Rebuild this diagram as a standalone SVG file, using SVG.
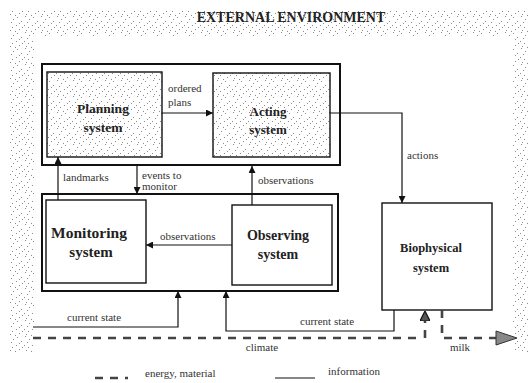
<svg xmlns="http://www.w3.org/2000/svg" width="532" height="383" viewBox="0 0 532 383" font-family="'Liberation Serif', 'DejaVu Serif', serif">
<style>
.lbl{font-family:'Liberation Serif','DejaVu Serif',serif;font-size:11px;fill:#333}
.ttl{font-family:'Liberation Serif','DejaVu Serif',serif;font-weight:bold;fill:#222;text-anchor:middle}
.box{stroke:#111;stroke-width:1.4}
.info{fill:none;stroke:#111;stroke-width:1.2}
.energy{fill:none;stroke:#444;stroke-width:2.6;stroke-dasharray:8 7}
</style>
<defs>
<pattern id="stip" width="16" height="16" patternUnits="userSpaceOnUse">
<rect width="16" height="16" fill="#fff"/>
<g fill="#8a8a8a">
<rect x="1" y="1" width="1" height="1"/><rect x="9" y="0" width="1" height="1"/><rect x="13" y="3" width="1" height="1"/>
<rect x="5" y="5" width="1" height="1"/><rect x="11" y="6" width="1" height="1"/>
<rect x="0" y="9" width="1" height="1"/><rect x="8" y="9" width="1" height="1"/><rect x="12" y="11" width="1" height="1"/>
<rect x="3" y="13" width="1" height="1"/><rect x="10" y="14" width="1" height="1"/><rect x="15" y="15" width="1" height="1"/>
<rect x="6" y="11" width="1" height="1"/><rect x="3" y="7" width="1" height="1"/>
</g>
</pattern>
<marker id="ah" viewBox="0 0 8 8" refX="8" refY="4" markerWidth="7" markerHeight="7" markerUnits="userSpaceOnUse" orient="auto">
<path d="M0,0 L8,4 L0,8 z" fill="#111"/>
</marker>
<marker id="ahb" viewBox="0 0 8 8" refX="8" refY="4" markerWidth="10" markerHeight="10" markerUnits="userSpaceOnUse" orient="auto">
<path d="M0,0 L8,4 L0,8 z" fill="#555" stroke="#111" stroke-width="1"/>
</marker>
</defs>
<rect width="532" height="383" fill="#fff"/>

<g id="environment">
<path d="M10,10 H528 V352 H513 V37 H34 V352 H10 Z" fill="url(#stip)"/>
<text class="ttl" x="291" y="22" font-size="14">EXTERNAL ENVIRONMENT</text>
</g>

<g id="info-top">
<rect x="42" y="64" width="298" height="101" fill="none" stroke="#111" stroke-width="2"/>
</g>
<g id="info-bottom">
<rect x="42" y="194" width="296" height="97" fill="none" stroke="#111" stroke-width="2"/>
</g>

<g id="planning">
<rect class="box" x="47" y="72" width="115" height="85" fill="url(#stip)"/>
<text class="ttl" x="103" y="113" font-size="13.5">Planning</text>
<text class="ttl" x="103" y="132" font-size="13.5">system</text>
</g>
<g id="acting">
<rect class="box" x="213" y="73" width="117" height="84" fill="url(#stip)"/>
<text class="ttl" x="268" y="116" font-size="13">Acting</text>
<text class="ttl" x="268" y="134" font-size="13">system</text>
</g>
<g id="monitoring">
<rect class="box" x="46" y="200" width="100" height="83" fill="#fff" stroke-width="1.6"/>
<text class="ttl" x="89" y="238" font-size="15.5">Monitoring</text>
<text class="ttl" x="91" y="257" font-size="15">system</text>
</g>
<g id="observing">
<rect class="box" x="232" y="205" width="100" height="80" fill="#fff" stroke-width="1.6"/>
<text class="ttl" x="278" y="240" font-size="14">Observing</text>
<text class="ttl" x="278" y="259" font-size="14">system</text>
</g>
<g id="biophysical">
<rect class="box" x="382" y="203" width="110" height="107" fill="#fff" stroke-width="1.6"/>
<text class="ttl" x="431" y="252" font-size="12.5">Biophysical</text>
<text class="ttl" x="431" y="272" font-size="12.5">system</text>
</g>

<g id="connectors">
<path class="info" d="M162,113 H213" marker-end="url(#ah)"/>
<path class="info" d="M330,113 H402 V203" marker-end="url(#ah)"/>
<path class="info" d="M58,200 V157" marker-end="url(#ah)"/>
<path class="info" d="M137,165 V194" marker-end="url(#ah)"/>
<path class="info" d="M252,205 V166" marker-end="url(#ah)"/>
<path class="info" d="M232,245 H146" marker-end="url(#ah)"/>
<path class="info" d="M33,327 H178 V291" marker-end="url(#ah)"/>
<path class="info" d="M394,310 V331 H226 V291" marker-end="url(#ah)"/>
<path class="energy" d="M33,338 H421"/>
<path class="energy" d="M425,338 V311" stroke-dasharray="5 4" marker-end="url(#ahb)"/>
<path class="energy" d="M442,310 V338 H497" stroke-dasharray="5 4"/>
<polygon points="496,331 517,338 496,345" fill="#888" stroke="#333" stroke-width="1"/>
</g>

<g id="labels">
<text class="lbl" x="168" y="92">ordered</text>
<text class="lbl" x="168" y="106">plans</text>
<text class="lbl" x="407" y="159">actions</text>
<text class="lbl" x="63" y="181">landmarks</text>
<text class="lbl" x="142" y="179">events to</text>
<text class="lbl" x="142" y="190">monitor</text>
<text class="lbl" x="258" y="184">observations</text>
<text class="lbl" x="160" y="240">observations</text>
<text class="lbl" x="67" y="321">current state</text>
<text class="lbl" x="300" y="325">current state</text>
<text class="lbl" x="262" y="351" text-anchor="middle" font-size="12">climate</text>
<text class="lbl" x="460" y="351" text-anchor="middle" font-size="12">milk</text>
</g>

<g id="legend">
<path class="energy" d="M95,378 H128" stroke-dasharray="6 6"/>
<text class="lbl" x="145" y="377">energy, material</text>
<path class="info" d="M275,378 H315" stroke-width="1.6"/>
<text class="lbl" x="328" y="375">information</text>
</g>
</svg>
